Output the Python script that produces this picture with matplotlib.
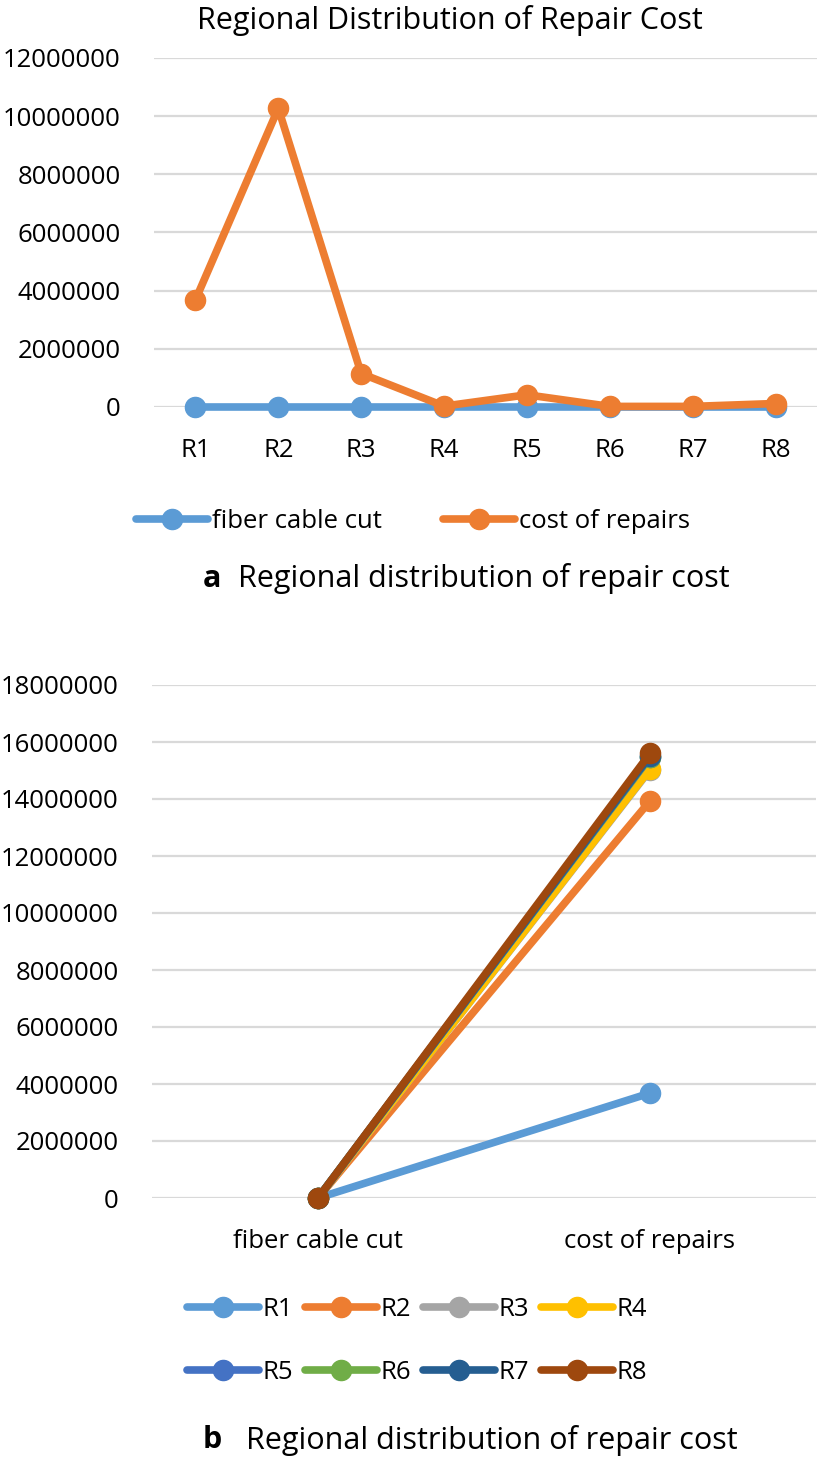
import numpy as np
import matplotlib.pyplot as plt
from matplotlib.lines import Line2D

# data
regions = ["R1", "R2", "R3", "R4", "R5", "R6", "R7", "R8"]
fiber_cuts = [120, 95, 60, 20, 45, 10, 12, 30]
repair_cost = [3680000, 10270000, 1150000, 30000, 420000, 20000, 20000, 120000]

# panel b: value per region at each measure
measures = ["fiber cable cut", "cost of repairs"]
b_fiber = [120, 215, 275, 295, 340, 350, 362, 392]
b_cost = [3680000, 13930000, 15020000, 15050000, 15470000, 15490000, 15510000, 15600000]

colors = ["#5B9BD5", "#ED7D31", "#A5A5A5", "#FFC000",
          "#4472C4", "#70AD47", "#255E91", "#9E480E"]

W, H = 819, 1462
FONT = ["Open Sans", "DejaVu Sans"]
plt.rcParams["font.family"] = FONT
TICK = 18.5
BIG = 22
LW = 5.5
MS = 14.5


def style(ax, ymax, step):
    ax.set_ylim(0, ymax)
    ax.set_yticks(np.arange(0, ymax + 1, step))
    ax.set_yticklabels([str(int(v)) for v in np.arange(0, ymax + 1, step)])
    ax.grid(axis="y", color="#D9D9D9", linewidth=1.6)
    ax.set_axisbelow(True)
    for s in ax.spines.values():
        s.set_visible(False)
    ax.tick_params(length=0, labelsize=TICK)
    ax.tick_params(axis="y", pad=24)
    ax.tick_params(axis="x", pad=22)


def fx(px):
    return px / W


def fy(py):
    return 1 - py / H


fig = plt.figure(figsize=(W / 100, H / 100), dpi=100)

# panel a
ax1 = fig.add_axes([fx(154), fy(407), fx(817 - 154), (407 - 58) / H])
x = np.arange(len(regions))
ax1.plot(x, fiber_cuts, color=colors[0], lw=LW, marker="o", ms=MS, clip_on=False,
         solid_capstyle="round")
ax1.plot(x, repair_cost, color=colors[1], lw=LW, marker="o", ms=MS, clip_on=False,
         solid_capstyle="round")
ax1.set_xlim(-0.5, 7.5)
ax1.set_xticks(x)
ax1.set_xticklabels(regions)
style(ax1, 12000000, 2000000)

fig.text(fx(450), fy(20), "Regional Distribution of Repair Cost", ha="center", va="center",
         fontsize=BIG)

h1 = [Line2D([], [], color=colors[i], lw=LW, marker="o", ms=MS, solid_capstyle="round")
      for i in range(2)]
fig.legend(h1, ["fiber cable cut", "cost of repairs"], loc="center",
           bbox_to_anchor=(fx(413), fy(521)), ncol=2, frameon=False, fontsize=TICK,
           handlelength=2.8, handletextpad=0.15, columnspacing=2.4)

fig.text(fx(203), fy(579), "a", fontsize=BIG, fontweight="bold", ha="left", va="center")
fig.text(fx(238), fy(579), "Regional distribution of repair cost", fontsize=BIG,
         ha="left", va="center")

# panel b
ax2 = fig.add_axes([fx(152), fy(1198), fx(816 - 152), (1198 - 685) / H])
xb = np.arange(len(measures))
for i, r in enumerate(regions):
    ax2.plot(xb, [b_fiber[i], b_cost[i]], color=colors[i], lw=LW, marker="o", ms=MS,
             clip_on=False, solid_capstyle="round")
ax2.set_xlim(-0.5, 1.5)
ax2.set_xticks(xb)
ax2.set_xticklabels(measures)
style(ax2, 18000000, 2000000)

# legend fills column-wise, so interleave the two rows
order = [0, 4, 1, 5, 2, 6, 3, 7]
h2 = [Line2D([], [], color=colors[i], lw=LW, marker="o", ms=MS, solid_capstyle="round")
      for i in order]
fig.legend(h2, [regions[i] for i in order], loc="center", bbox_to_anchor=(fx(417), fy(1341)),
           ncol=4, frameon=False, fontsize=TICK, handlelength=2.8, handletextpad=0.15,
           columnspacing=0.45, labelspacing=1.45)

fig.text(fx(203), fy(1440), "b", fontsize=BIG, fontweight="bold", ha="left", va="center")
fig.text(fx(246), fy(1440), "Regional distribution of repair cost", fontsize=BIG,
         ha="left", va="center")

fig.savefig("out.png", dpi=100)
